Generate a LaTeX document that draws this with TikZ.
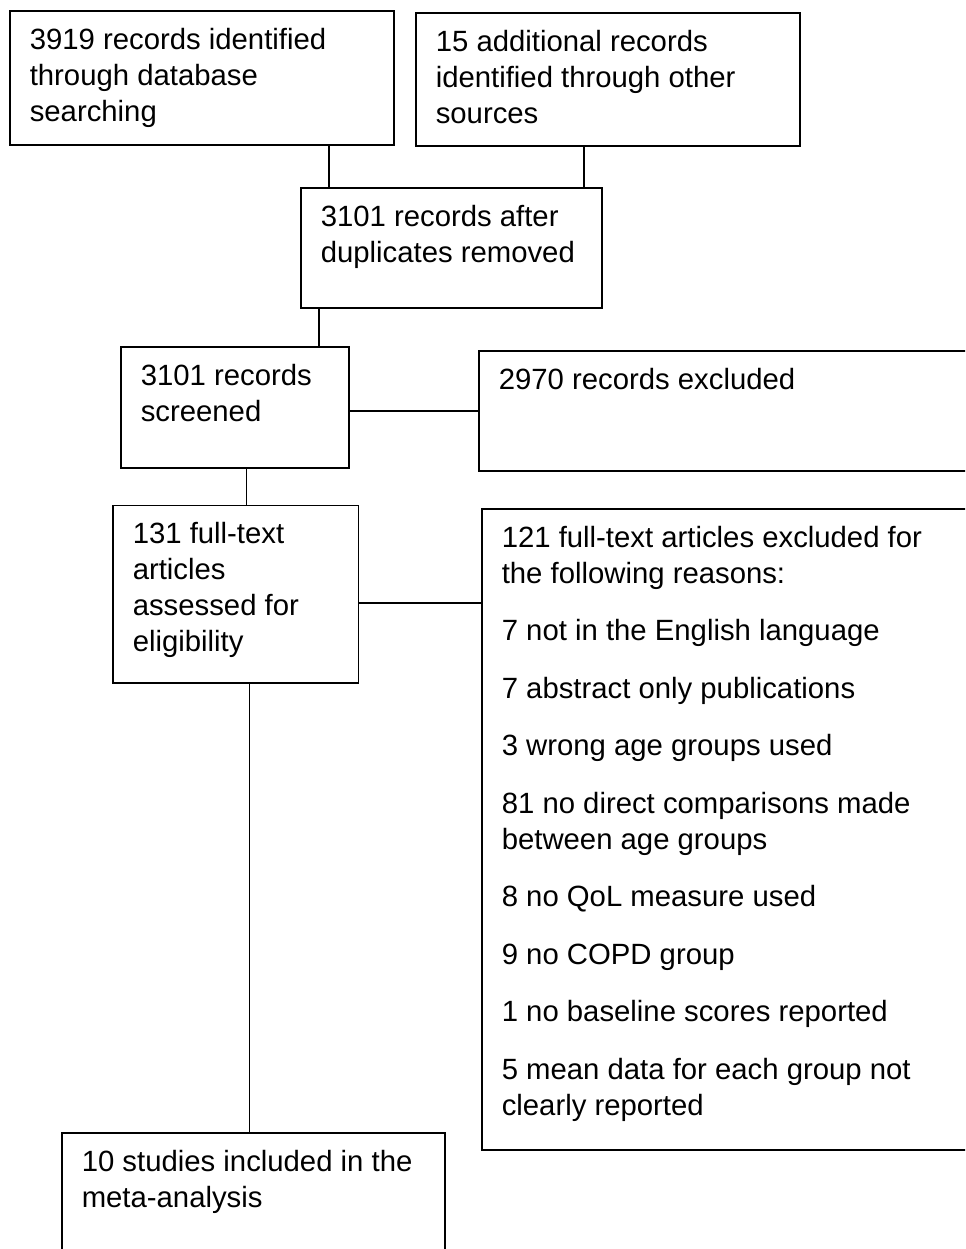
\documentclass[tikz,border=0pt]{standalone}
\usepackage{fontspec}
\setmainfont{Liberation Sans}

\newcommand{\flowtext}[3]{\parbox[t][#2][t]{#1}{\raggedright\fontsize{14.65pt}{18pt}\selectfont #3}}

\begin{document}
\begin{tikzpicture}[x=0.5pt,y=-0.5pt]

    \tikzset{
      flowbox/.style={
        draw,
        line width=0.8pt,
        anchor=north west,
        inner xsep=10pt,
        inner ysep=8.5pt,
        align=left,
      },
      link/.style={
        line width=0.75pt,
      },
    }
    \useasboundingbox (0,0) rectangle (965,1249);
    \clip (0,0) rectangle (965,1249);
	\node[flowbox] (ident) at (9,10) {\flowtext{172pt}{50pt}{3919 records identified\\through database\\searching}};
	\node[flowbox] (other) at (415,12) {\flowtext{172pt}{49.5pt}{15 additional records\\identified through other\\sources}};
	\node[flowbox] (dup) at (300,187) {\flowtext{130.5pt}{43pt}{3101 records after\\duplicates removed}};
	\node[flowbox] (screen) at (120,346) {\flowtext{94pt}{43.5pt}{3101 records\\screened}};
	\node[flowbox] (excl) at (478,350) {\flowtext{231pt}{43pt}{2970 records excluded}};
	\node[flowbox] (full) at (112,504.5) {\flowtext{102.75pt}{71.75pt}{131 full-text\\articles\\assessed for\\eligibility}};
	\node[flowbox] (ftexcl) at (481,508) {\flowtext{229.5pt}{303.5pt}{121 full-text articles excluded for\\the following reasons:\\[10.75pt]
	7 not in the English language\\[10.75pt]
	7 abstract only publications\\[10.75pt]
	3 wrong age groups used\\[10.75pt]
	81 no direct comparisons made\\between age groups\\[10.75pt]
	8 no QoL measure used\\[10.75pt]
	9 no COPD group\\[10.75pt]
	1 no baseline scores reported\\[10.75pt]
	5 mean data for each group not\\clearly reported}};
	\node[flowbox] (incl) at (61,1132) {\flowtext{171.5pt}{47pt}{10 studies included in the\\meta-analysis}};

	\coordinate (identout) at ([xshift=63.5pt]ident.south);
	\coordinate (otherout) at ([xshift=-12pt]other.south);
	\coordinate (dupout) at ([xshift=-66.25pt]dup.south);
	\coordinate (screenout) at ([xshift=5.75pt]screen.south);
	\coordinate (fullside) at ([yshift=-4.4pt]full.east);
	\coordinate (fullout) at ([xshift=6.9pt]full.south);

	\draw[link] (identout)--(identout |- dup.north);
	\draw[link] (otherout)--(otherout |- dup.north);
	\draw[link] (dupout)--(dupout |- screen.north);
	\draw[link] (excl.west -| screen.east)--(excl.west);
	\draw[link] (screenout)--(screenout |- full.north);
	\draw[link] (fullside)--(fullside -| ftexcl.west);
	\draw[link] (fullout)--(fullout |- incl.north);

\end{tikzpicture}
\end{document}
